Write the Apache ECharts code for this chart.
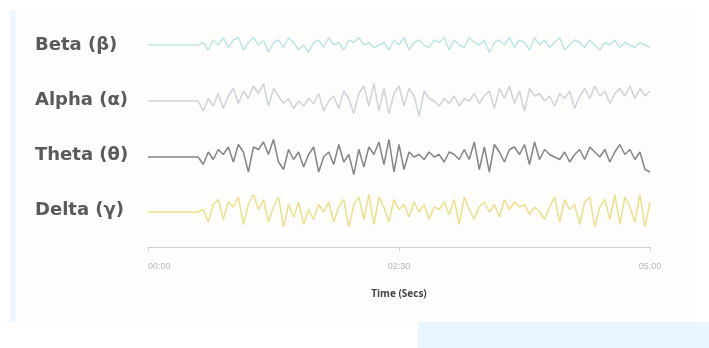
<!DOCTYPE html>
<html>
<head>
<meta charset="utf-8">
<script src="https://cdn.jsdelivr.net/npm/echarts@6/dist/echarts.min.js"></script>
<style>
  html, body { margin: 0; padding: 0; background: #ffffff; }
  #main { width: 709px; height: 348px; }
</style>
</head>
<body>
<div id="main"></div>
<script>
// band names, top to bottom
var bandNames = ['Beta (β)', 'Alpha (α)', 'Theta (θ)', 'Delta (γ)'];
var bandColors = ['#bfe5e8', '#cfd3da', '#858585', '#ece08c'];

// time axis (seconds) and its tick labels
var timeMax = 300;
var sampleStep = 3;
var tickLabels = ['00:00', '02:30', '05:00'];

// amplitudes, one sample every 3 s
var beta = [0,0,0,0,0,0,0,0,0,0,0,
  0.1,-0.2,0.2,0.0,0.3,-0.1,0.2,0.3,-0.2,0.1,
  0.3,0.0,0.2,-0.3,0.1,0.2,-0.1,0.3,0.1,-0.2,
  0.0,-0.3,0.1,0.2,-0.1,0.3,0.0,0.1,-0.2,0.2,
  0.1,0.3,0.0,0.1,-0.1,0.0,0.1,-0.2,0.2,0.0,
  0.3,-0.2,0.1,0.2,0.0,-0.1,0.2,0.1,0.3,-0.2,
  0.2,0.0,-0.1,0.3,0.1,0.0,0.2,-0.3,0.1,0.2,
  0.0,0.3,-0.1,0.2,0.1,-0.2,0.3,0.0,0.2,-0.1,
  0.1,0.3,-0.2,0.0,0.2,0.1,-0.1,0.2,0.0,-0.2,
  0.1,0.0,0.2,-0.1,0.1,0.0,-0.1,0.1,0.0,-0.1];
var alpha = [0,0,0,0,0,0,0,0,0,0,0,
  -0.4,0.1,-0.2,0.3,-0.3,0.2,0.5,-0.1,0.4,0.1,
  0.6,0.3,0.7,-0.2,0.5,0.2,-0.1,0.1,-0.3,0.0,
  -0.2,0.1,-0.1,0.3,-0.4,0.0,0.2,-0.3,0.4,0.1,
  -0.5,0.3,0.6,-0.2,0.7,-0.4,0.5,-0.5,0.3,0.6,
  -0.2,0.5,0.2,-0.6,0.4,0.1,0.0,-0.2,0.1,-0.1,
  0.2,-0.2,0.1,0.0,0.3,-0.1,0.2,0.4,-0.3,0.5,
  0.1,0.6,-0.1,0.4,-0.4,0.5,0.2,0.3,0.0,0.2,
  -0.2,0.3,0.1,0.4,-0.3,0.2,0.5,0.1,0.6,0.2,
  0.4,-0.1,0.3,0.5,0.2,0.6,0.1,0.5,0.2,0.4];
var theta = [0,0,0,0,0,0,0,0,0,0,0,
  -0.3,0.2,-0.1,0.3,0.1,0.4,-0.2,0.5,0.2,-0.6,
  0.4,0.3,0.6,0.1,0.7,-0.2,-0.5,0.3,-0.1,0.2,
  -0.4,0.1,0.4,-0.6,0.0,0.2,-0.3,0.5,-0.2,0.1,
  -0.7,0.3,-0.4,0.4,0.1,0.6,-0.3,0.7,-0.6,0.5,
  -0.5,0.2,0.0,0.1,-0.1,0.2,0.0,0.1,-0.2,0.2,
  0.1,-0.1,0.3,-0.1,0.6,-0.5,0.4,-0.6,0.5,0.2,
  -0.2,0.3,0.4,0.1,0.5,-0.3,0.6,-0.1,0.3,0.1,
  0.0,-0.1,0.2,-0.2,0.1,0.3,-0.1,0.4,0.2,0.0,
  0.3,-0.2,0.2,0.5,0.1,0.3,-0.1,0.2,-0.5,-0.6];
var delta = [0,0,0,0,0,0,0,0,0,0,0,
  0.1,-0.4,0.3,0.5,-0.3,0.4,0.2,0.6,-0.5,0.3,
  0.7,0.1,0.5,-0.4,0.2,0.6,-0.6,0.3,-0.2,0.4,
  -0.5,0.1,-0.3,0.3,0.0,0.4,-0.4,0.2,0.5,-0.6,
  0.3,0.6,-0.3,0.7,-0.5,0.6,0.2,-0.4,0.5,0.1,
  0.3,-0.2,0.4,0.0,0.3,-0.3,0.2,0.1,0.4,-0.1,
  0.5,-0.5,0.6,0.1,-0.3,0.2,0.4,0.0,0.3,-0.2,
  0.5,0.1,0.4,0.2,0.3,-0.1,0.2,0.0,-0.3,0.2,
  0.6,-0.4,0.5,0.1,0.3,-0.5,0.4,0.6,-0.6,0.2,
  0.5,-0.3,0.7,-0.5,0.6,0.2,-0.4,0.7,-0.6,0.4];

var bandData = [beta, alpha, theta, delta];

var chart = echarts.init(document.getElementById('main'));

function withTime(arr) {
  return arr.map(function (v, i) { return [i * sampleStep, v]; });
}

// one grid per band, the last one carries the time axis
var grids = [
  { left: 148, right: 59, top: 20, height: 50 },
  { left: 148, right: 59, top: 76, height: 50 },
  { left: 148, right: 59, top: 132, height: 50 },
  { left: 148, right: 59, top: 177, height: 70 },
  // overlay grid only for the band names
  { left: 148, right: 59, top: 18, height: 220 }
];

var xAxes = [];
var yAxes = [];
var series = [];
for (var i = 0; i < 4; i++) {
  var last = i === 3;
  xAxes.push({
    gridIndex: i,
    type: 'value',
    min: 0,
    max: timeMax,
    interval: 150,
    show: last,
    name: last ? 'Time (Secs)' : '',
    nameLocation: 'middle',
    nameGap: 42,
    nameTextStyle: { color: '#444', fontSize: 10, fontWeight: 'bold', fontFamily: 'Open Sans' },
    axisLine: { onZero: false, lineStyle: { color: '#d0d0d0' } },
    axisTick: { show: true, length: 4, lineStyle: { color: '#d0d0d0' } },
    splitLine: { show: false },
    axisLabel: {
      color: '#b8b8b8',
      fontSize: 9,
      margin: 15,
      alignMinLabel: 'left',
      formatter: function (val) {
        return tickLabels[Math.round(val / 150)];
      }
    }
  });
  yAxes.push({
    gridIndex: i,
    type: 'value',
    min: last ? -1.4 : -1,
    max: last ? 1.4 : 1,
    show: false
  });
  series.push({
    name: bandNames[i],
    type: 'line',
    xAxisIndex: i,
    yAxisIndex: i,
    data: withTime(bandData[i]),
    showSymbol: false,
    lineStyle: { color: bandColors[i], width: 1.5 },
    z: 2
  });
}

// band name labels
xAxes.push({ gridIndex: 4, type: 'value', show: false });
yAxes.push({
  gridIndex: 4,
  type: 'category',
  inverse: true,
  data: bandNames,
  axisLine: { show: false },
  axisTick: { show: false },
  axisLabel: {
    align: 'left',
    margin: 113,
    color: '#5a5a5a',
    fontSize: 18,
    fontWeight: 'bold',
    fontFamily: 'DejaVu Sans'
  }
});

var option = {
  animation: false,
  backgroundColor: '#ffffff',
  graphic: [
    { type: 'rect', left: 10, top: 10, shape: { width: 6, height: 312 }, style: { fill: '#eef7fd' }, z: -10 },
    { type: 'rect', left: 16, top: 10, shape: { width: 680, height: 312 }, style: { fill: '#fdfdfc' }, z: -11 },
    { type: 'rect', left: 418, top: 322, shape: { width: 291, height: 26 }, style: { fill: '#e9f6fd' }, z: -10 }
  ],
  grid: grids,
  xAxis: xAxes,
  yAxis: yAxes,
  series: series
};

chart.setOption(option);
window.addEventListener('resize', function () {
  chart.resize();
});
</script>
</body>
</html>
